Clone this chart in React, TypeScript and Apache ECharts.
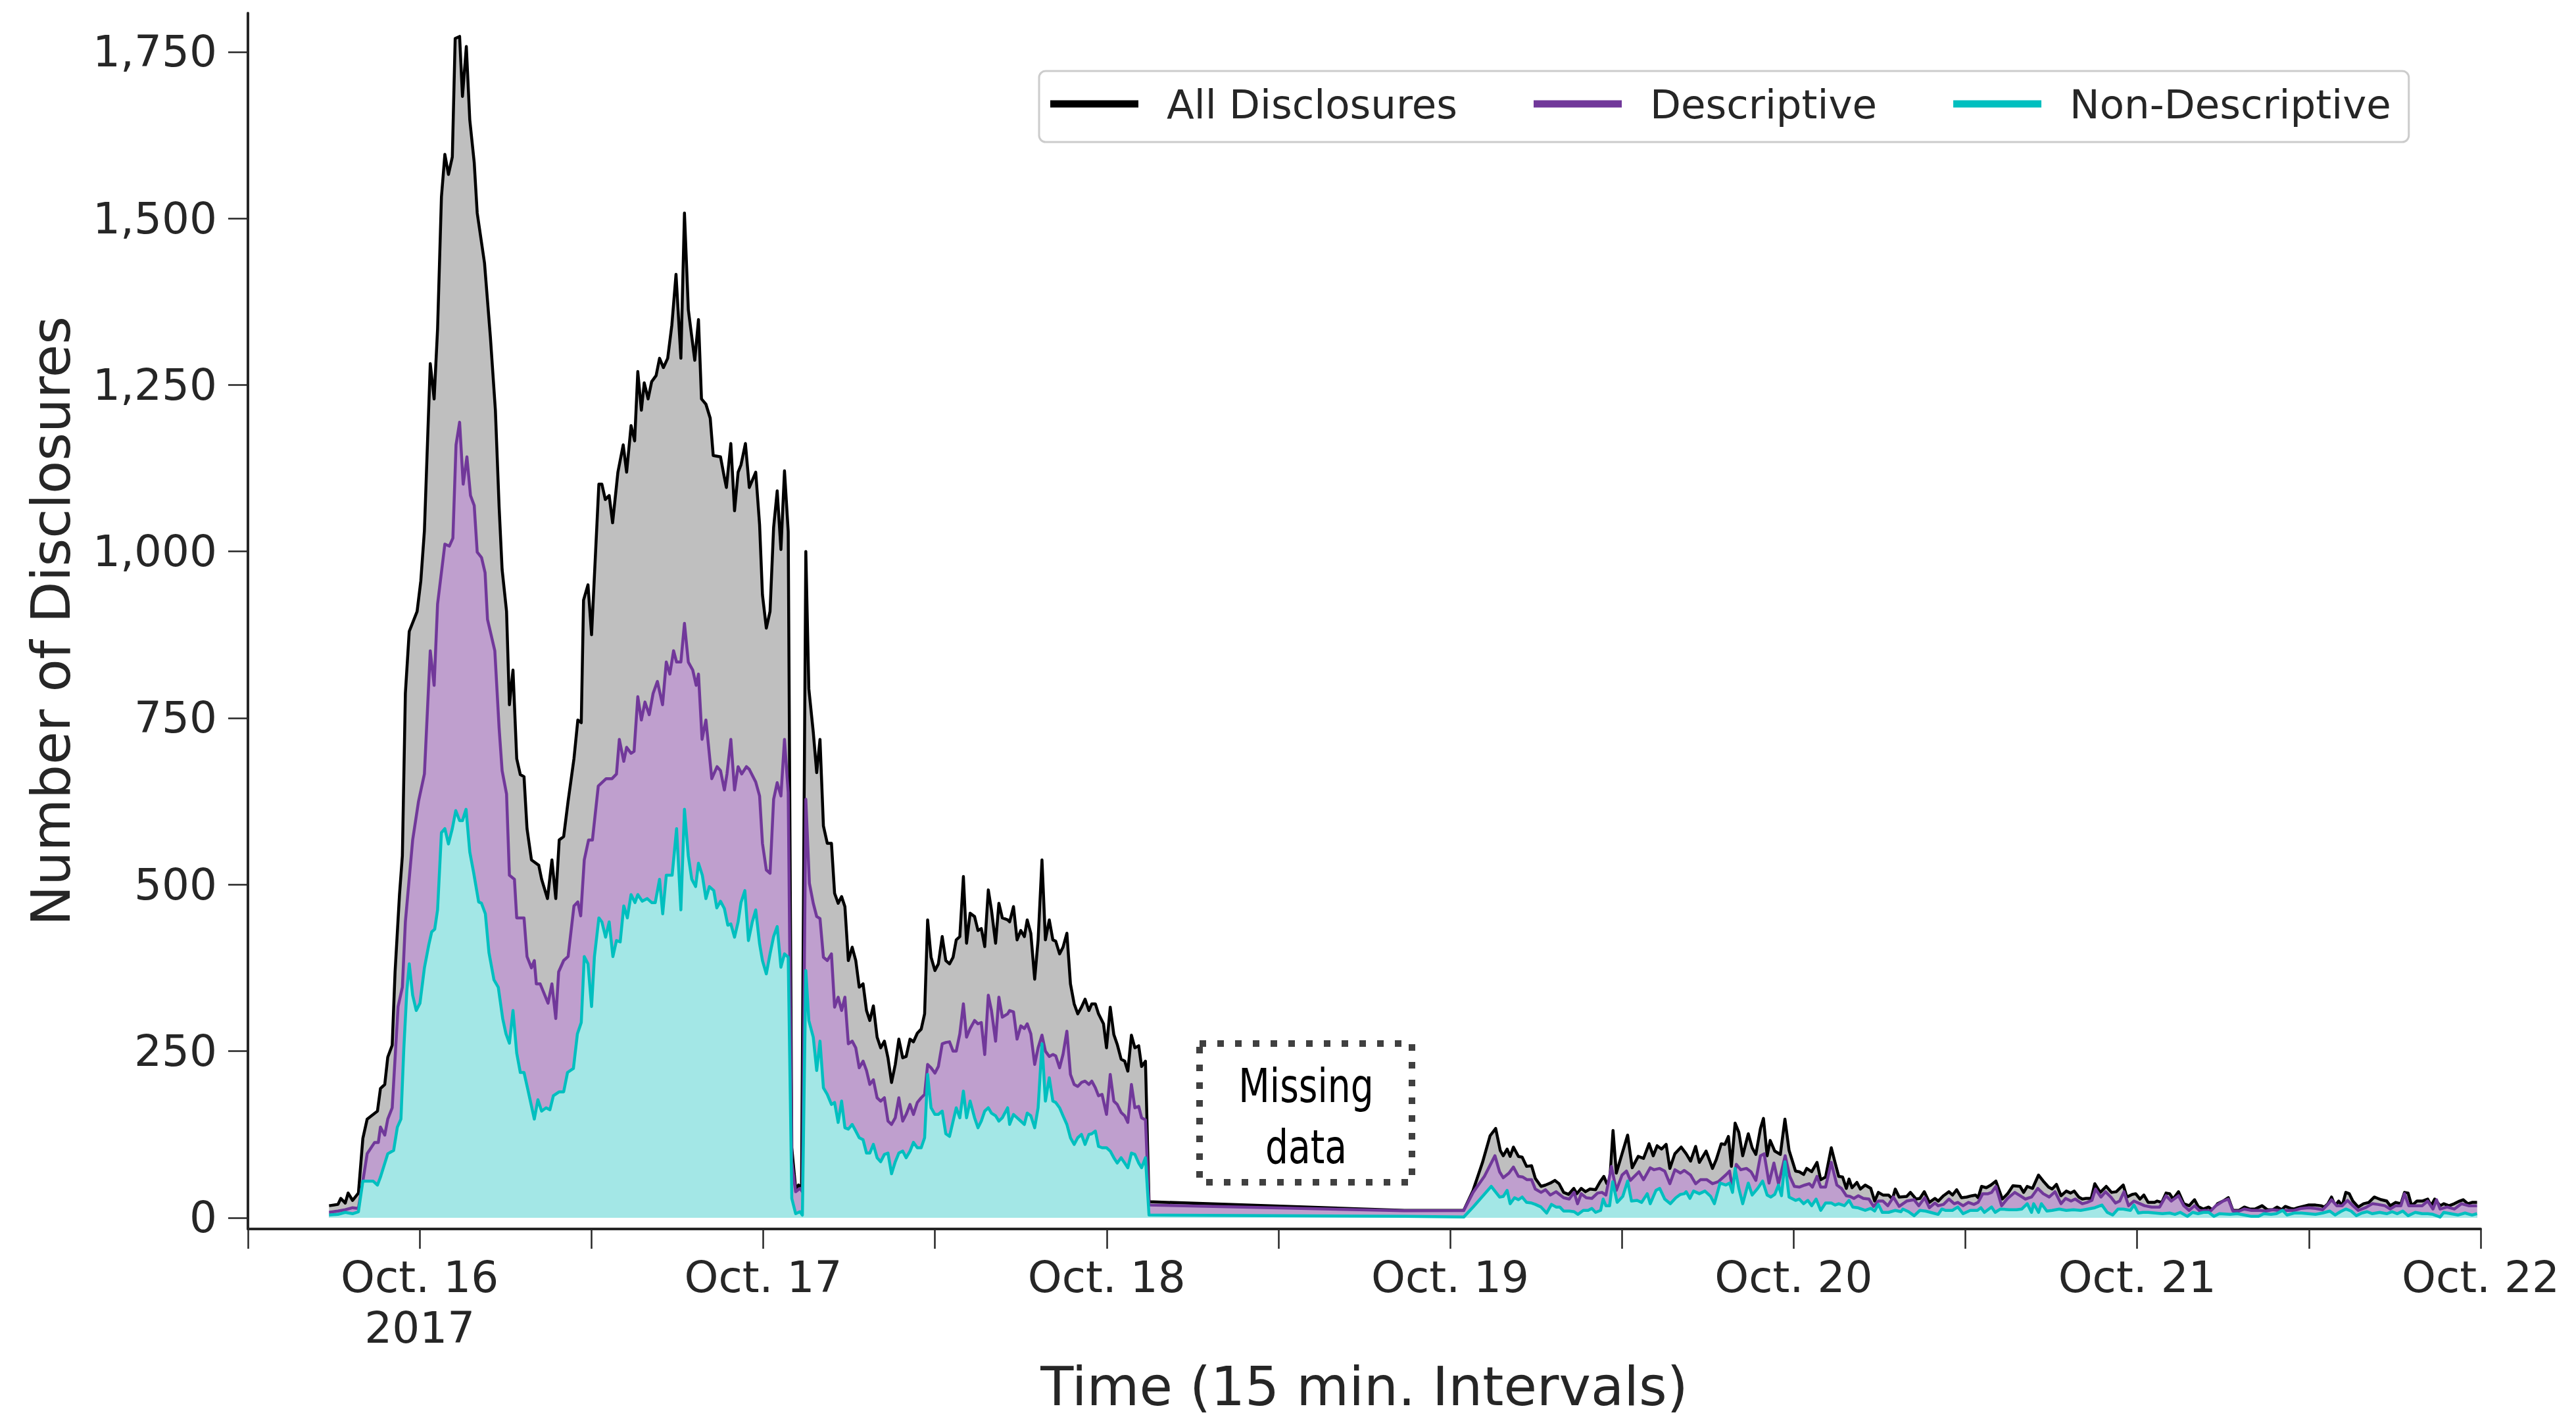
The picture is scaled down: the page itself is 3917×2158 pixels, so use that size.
import React, { useEffect, useRef } from "react";
import * as echarts from "echarts";

// Hours are measured from Oct. 16, 2017 00:00 (15-minute sampling).
const allDisclosures: [number, number][] = [
  [-6.33,18],[-5.71,20],[-5.51,29],[-5.2,22],[-5.0,37],[-4.69,26],[-4.28,37],[-3.97,119],[-3.67,148],[-2.95,160],[-2.74,194],[-2.44,200],[-2.23,241],[-1.92,259],[-1.72,369],[-1.41,485],[-1.21,543],[-1.0,787],[-0.73,880],[-0.18,910],[0.08,956],[0.33,1031],[0.74,1282],[1.01,1229],[1.25,1334],[1.52,1532],[1.76,1596],[2.01,1566],[2.28,1592],[2.48,1770],[2.79,1773],[2.99,1683],[3.26,1758],[3.5,1648],[3.81,1584],[4.02,1508],[4.53,1433],[4.94,1322],[5.29,1212],[5.55,1067],[5.76,973],[6.07,910],[6.27,770],[6.52,822],[6.78,689],[7.03,665],[7.29,662],[7.5,584],[7.81,537],[8.32,529],[8.52,508],[8.93,479],[9.24,537],[9.51,479],[9.75,567],[10.06,572],[10.37,625],[10.78,689],[11.05,747],[11.29,743],[11.45,927],[11.76,950],[12.01,875],[12.52,1101],[12.73,1101],[12.97,1078],[13.24,1084],[13.48,1043],[13.85,1119],[14.22,1160],[14.46,1119],[14.77,1189],[15.02,1166],[15.24,1270],[15.49,1212],[15.69,1253],[15.96,1229],[16.21,1255],[16.52,1264],[16.76,1290],[17.03,1276],[17.33,1290],[17.62,1340],[17.91,1416],[18.25,1290],[18.5,1508],[18.77,1363],[19.22,1287],[19.48,1348],[19.69,1229],[20.0,1221],[20.3,1200],[20.51,1144],[21.02,1142],[21.27,1113],[21.43,1096],[21.74,1162],[22.0,1061],[22.25,1119],[22.45,1130],[22.76,1162],[23.03,1096],[23.48,1119],[23.75,1040],[23.95,935],[24.22,885],[24.48,910],[24.73,1036],[24.98,1091],[25.24,1003],[25.49,1121],[25.75,1030],[26.0,105],[26.27,44],[26.47,49],[26.68,44],[26.98,1000],[27.19,794],[27.5,729],[27.74,668],[27.97,718],[28.21,588],[28.48,562],[28.77,562],[28.99,487],[29.24,472],[29.48,482],[29.71,467],[29.95,386],[30.22,406],[30.47,386],[30.71,346],[30.98,351],[31.22,311],[31.45,296],[31.7,318],[31.96,271],[32.21,255],[32.47,265],[32.72,240],[32.97,203],[33.23,230],[33.48,268],[33.75,240],[33.99,242],[34.26,268],[34.5,264],[34.77,277],[35.04,283],[35.28,306],[35.49,447],[35.73,391],[36.0,371],[36.24,381],[36.51,422],[36.76,386],[37.02,381],[37.27,391],[37.49,417],[37.74,422],[37.99,512],[38.21,412],[38.46,457],[38.77,452],[39.01,431],[39.24,434],[39.48,407],[39.73,492],[39.95,462],[40.24,412],[40.47,472],[40.71,450],[41.08,447],[41.22,444],[41.49,467],[41.74,417],[42.0,431],[42.25,422],[42.45,447],[42.7,427],[42.97,358],[43.21,417],[43.48,537],[43.72,417],[43.99,447],[44.24,417],[44.44,415],[44.71,396],[44.95,406],[45.22,427],[45.47,351],[45.73,321],[45.98,306],[46.24,316],[46.49,328],[46.76,311],[46.96,321],[47.21,321],[47.43,306],[47.78,291],[47.99,255],[48.25,316],[48.5,275],[48.74,260],[49.01,238],[49.26,235],[49.48,220],[49.73,274],[49.97,255],[50.24,258],[50.44,227],[50.71,235],[50.96,24],
  [68.8,11],[72.95,11],[73.6,41],[74.26,83],[74.79,123],[75.18,134],[75.5,101],[75.71,93],[75.98,103],[76.19,92],[76.42,106],[76.77,92],[77.03,91],[77.34,77],[77.69,78],[77.95,59],[78.35,47],[78.66,49],[79.0,52],[79.32,56],[79.61,51],[79.93,38],[80.27,35],[80.64,44],[80.85,36],[81.16,44],[81.45,39],[81.77,43],[82.16,42],[82.48,54],[82.74,62],[82.95,51],[83.14,52],[83.38,131],[83.61,67],[84.01,96],[84.4,124],[84.72,75],[85.14,92],[85.51,89],[85.9,111],[86.19,93],[86.46,108],[86.77,103],[87.09,110],[87.35,74],[87.7,96],[88.14,106],[88.49,96],[88.8,85],[89.15,107],[89.41,83],[89.88,100],[90.33,74],[90.59,87],[90.94,111],[91.2,110],[91.44,122],[91.65,77],[91.91,142],[92.17,128],[92.44,93],[92.83,126],[93.1,105],[93.36,95],[93.68,134],[93.89,149],[94.15,93],[94.36,116],[94.68,100],[95.07,95],[95.39,148],[95.68,101],[96.13,70],[96.39,69],[96.7,65],[96.91,74],[97.26,69],[97.63,83],[97.89,57],[98.23,61],[98.63,105],[98.89,83],[99.15,62],[99.42,61],[99.68,44],[99.87,58],[100.08,45],[100.42,53],[100.66,43],[101.0,49],[101.39,44],[101.66,25],[101.92,38],[102.24,34],[102.63,34],[102.9,28],[103.1,43],[103.37,31],[103.9,32],[104.16,38],[104.55,28],[104.82,29],[105.13,39],[105.48,23],[105.87,29],[106.1,25],[106.47,33],[106.85,39],[107.1,34],[107.39,42],[107.72,30],[108.09,31],[108.46,33],[108.71,34],[108.89,30],[109.13,47],[109.46,45],[109.78,49],[110.13,55],[110.58,28],[110.95,36],[111.32,48],[111.82,47],[112.07,38],[112.32,47],[112.69,44],[113.11,64],[113.44,55],[113.81,46],[114.06,43],[114.36,50],[114.68,33],[115.05,40],[115.35,37],[115.6,40],[115.92,31],[116.17,28],[116.42,29],[116.79,29],[117.04,51],[117.42,38],[117.84,47],[118.21,38],[118.54,39],[119.03,49],[119.28,31],[119.65,35],[119.9,36],[120.2,28],[120.47,34],[120.77,23],[121.22,23],[121.4,25],[121.72,23],[122.02,37],[122.27,36],[122.51,28],[122.89,39],[123.26,21],[123.63,18],[124.01,27],[124.26,17],[124.63,13],[125.0,16],[125.3,11],[125.62,21],[126.0,25],[126.37,30],[126.69,11],[127.12,11],[127.49,16],[127.86,13],[128.23,13],[128.73,18],[129.1,12],[129.48,12],[129.78,16],[130.1,12],[130.35,17],[130.72,14],[130.97,13],[131.22,15],[131.59,17],[131.96,19],[132.46,19],[132.84,18],[133.08,16],[133.33,21],[133.58,31],[133.83,18],[134.08,25],[134.33,18],[134.58,38],[134.82,36],[135.07,25],[135.45,16],[135.82,21],[136.19,23],[136.57,31],[136.81,29],[137.06,27],[137.44,25],[137.68,18],[138.06,23],[138.43,21],[138.68,38],[138.93,37],[139.18,18],[139.55,25],[139.92,25],[140.3,28],[140.54,18],[140.79,28],[141.17,18],[141.42,21],[141.79,18],[142.16,21],[142.53,25],[142.78,27],[143.11,21],[143.4,23],[143.75,23]
];

const descriptive: [number, number][] = [
  [-6.33,8],[-5.71,10],[-5.2,12],[-4.69,15],[-4.28,14],[-3.97,55],[-3.67,96],[-3.15,113],[-2.89,113],[-2.74,136],[-2.44,124],[-2.23,148],[-1.92,165],[-1.51,317],[-1.21,346],[-1.0,444],[-0.49,567],[-0.08,625],[0.33,666],[0.74,851],[1.01,799],[1.25,921],[1.76,1011],[2.07,1008],[2.32,1020],[2.54,1160],[2.79,1194],[3.04,1101],[3.3,1142],[3.55,1084],[3.81,1069],[4.02,999],[4.32,991],[4.57,968],[4.74,898],[5.25,851],[5.55,735],[5.76,671],[6.07,636],[6.27,514],[6.62,508],[6.78,450],[7.29,450],[7.5,392],[7.81,375],[8.01,386],[8.15,351],[8.42,351],[8.97,322],[9.24,351],[9.51,299],[9.71,369],[10.06,386],[10.37,392],[10.78,468],[11.05,474],[11.25,453],[11.5,537],[11.8,567],[12.07,567],[12.48,648],[13.03,659],[13.44,659],[13.75,666],[13.95,718],[14.26,685],[14.46,706],[14.77,697],[14.98,700],[15.24,782],[15.49,747],[15.74,774],[16.04,755],[16.31,787],[16.61,805],[16.97,770],[17.23,834],[17.48,816],[17.74,851],[17.95,834],[18.25,834],[18.5,892],[18.77,834],[19.08,822],[19.32,799],[19.48,816],[19.73,718],[20.0,747],[20.41,659],[20.78,677],[21.02,671],[21.29,642],[21.47,666],[21.74,718],[22.0,642],[22.25,677],[22.5,666],[22.83,677],[23.03,673],[23.48,654],[23.75,633],[23.95,562],[24.22,522],[24.48,517],[24.73,628],[24.98,653],[25.24,633],[25.49,718],[25.75,638],[26.0,84],[26.27,39],[26.57,44],[26.74,39],[26.98,628],[27.23,502],[27.5,472],[27.74,452],[27.97,449],[28.21,391],[28.48,386],[28.77,396],[28.99,316],[29.24,331],[29.48,311],[29.71,331],[29.95,261],[30.22,265],[30.47,255],[30.71,225],[30.98,235],[31.22,221],[31.45,200],[31.7,207],[31.96,180],[32.21,175],[32.47,180],[32.72,145],[32.97,140],[33.23,150],[33.48,180],[33.75,145],[33.99,155],[34.26,170],[34.5,155],[34.77,173],[35.04,180],[35.28,185],[35.49,230],[35.73,225],[36.0,217],[36.24,227],[36.51,261],[36.76,263],[37.02,264],[37.27,250],[37.49,250],[37.74,276],[37.99,321],[38.21,271],[38.46,284],[38.77,296],[39.01,291],[39.24,293],[39.48,245],[39.73,334],[39.95,311],[40.24,265],[40.47,331],[40.71,301],[41.08,306],[41.22,311],[41.49,309],[41.74,268],[42.0,288],[42.25,284],[42.45,291],[42.7,276],[42.97,230],[43.21,255],[43.48,274],[43.72,250],[43.99,242],[44.24,245],[44.44,243],[44.71,225],[44.95,245],[45.22,280],[45.47,215],[45.73,200],[45.98,197],[46.24,203],[46.49,205],[46.76,200],[46.96,205],[47.21,195],[47.43,183],[47.68,185],[47.99,155],[48.25,215],[48.5,175],[48.74,170],[49.01,158],[49.26,153],[49.48,143],[49.73,200],[49.97,165],[50.24,167],[50.44,150],[50.71,147],[50.96,19],
  [68.8,10.5],[72.95,10.8],[73.6,38],[74.39,62],[75.13,93],[75.45,69],[75.71,60],[76.11,67],[76.42,76],[76.77,62],[77.08,61],[77.37,57],[77.69,57],[77.95,43],[78.35,38],[78.66,42],[79.0,34],[79.4,39],[79.93,30],[80.32,28],[80.66,38],[80.9,21],[81.16,36],[81.51,30],[81.9,29],[82.3,37],[82.61,38],[82.88,34],[83.27,77],[83.61,41],[84.01,64],[84.32,70],[84.59,56],[85.19,69],[85.51,57],[85.98,75],[86.25,72],[86.64,74],[86.99,70],[87.35,51],[87.7,72],[88.09,67],[88.36,71],[88.8,64],[89.15,51],[89.49,57],[89.94,57],[90.33,51],[90.73,54],[91.25,64],[91.52,70],[91.73,44],[91.99,80],[92.31,72],[92.7,74],[93.02,69],[93.36,56],[93.68,93],[93.94,96],[94.28,52],[94.62,82],[94.94,51],[95.41,93],[95.73,62],[96.05,47],[96.39,46],[96.78,49],[97.1,51],[97.31,46],[97.63,62],[97.89,46],[98.23,46],[98.63,83],[99.02,49],[99.34,44],[99.68,33],[99.94,32],[100.21,29],[100.52,33],[100.87,29],[101.26,28],[101.58,17],[101.92,25],[102.24,25],[102.58,18],[102.97,31],[103.37,17],[103.9,25],[104.42,27],[104.74,18],[105.16,30],[105.48,15],[105.87,22],[106.1,18],[106.47,20],[106.85,28],[107.22,21],[107.47,23],[107.84,18],[108.21,23],[108.59,20],[108.89,23],[109.21,36],[109.58,36],[109.83,38],[110.13,47],[110.53,18],[110.95,29],[111.45,38],[111.82,33],[112.19,28],[112.62,31],[113.06,44],[113.44,36],[113.86,31],[114.26,39],[114.68,21],[115.0,29],[115.38,25],[115.67,28],[116.17,21],[116.5,23],[116.84,26],[117.09,43],[117.47,31],[117.79,39],[118.16,31],[118.49,22],[118.78,25],[119.08,39],[119.4,18],[119.78,25],[120.2,21],[120.52,18],[121.02,16],[121.57,16],[122.02,33],[122.39,25],[122.89,33],[123.26,18],[123.63,11],[124.01,18],[124.38,10],[124.75,11],[125.13,10],[125.5,18],[126.0,25],[126.37,28],[126.69,10],[127.12,10],[127.49,13],[127.99,11],[128.61,11],[128.98,10],[129.48,12],[129.85,11],[130.35,11],[130.97,11],[131.47,14],[131.96,15],[132.46,14],[132.96,12],[133.33,20],[133.58,27],[133.95,18],[134.33,18],[134.7,26],[135.07,18],[135.45,11],[135.94,15],[136.44,21],[136.81,20],[137.31,18],[137.68,13],[138.06,18],[138.43,18],[138.68,36],[138.98,18],[139.43,18],[139.92,18],[140.3,25],[140.67,13],[140.92,27],[141.17,13],[141.66,16],[142.16,13],[142.66,21],[143.16,18],[143.75,18]
];

const nonDescriptive: [number, number][] = [
  [-6.33,4],[-5.71,5],[-5.2,8],[-4.69,6],[-4.28,9],[-3.97,55],[-3.26,55],[-2.95,49],[-2.74,61],[-2.23,96],[-1.82,101],[-1.56,136],[-1.31,148],[-1.11,253],[-0.9,340],[-0.73,381],[-0.49,334],[-0.24,311],[0.02,322],[0.33,375],[0.64,410],[0.84,429],[1.05,433],[1.25,462],[1.52,578],[1.76,584],[2.01,561],[2.28,584],[2.52,611],[2.79,596],[2.99,596],[3.24,613],[3.5,549],[3.77,518],[4.12,474],[4.32,472],[4.59,456],[4.84,398],[5.19,357],[5.49,346],[5.8,299],[6.03,276],[6.27,262],[6.52,311],[6.78,247],[7.03,218],[7.29,218],[7.54,194],[8.01,148],[8.26,177],[8.52,160],[8.83,165],[9.1,162],[9.34,183],[9.75,189],[10.06,189],[10.33,218],[10.74,224],[11.02,276],[11.29,293],[11.5,392],[11.76,381],[12.01,317],[12.21,392],[12.52,450],[12.73,444],[12.99,421],[13.24,444],[13.5,392],[13.75,416],[14.01,414],[14.26,468],[14.51,450],[14.77,485],[15.04,473],[15.24,485],[15.55,475],[15.9,479],[16.21,473],[16.46,473],[16.76,508],[16.98,456],[17.23,514],[17.64,514],[17.95,584],[18.25,462],[18.5,613],[18.77,543],[19.01,508],[19.28,497],[19.48,532],[19.75,514],[20.0,479],[20.24,497],[20.55,491],[20.76,465],[21.02,475],[21.29,464],[21.53,439],[21.74,441],[22.0,421],[22.25,444],[22.45,473],[22.72,491],[22.97,416],[23.24,444],[23.48,462],[23.75,411],[23.95,386],[24.22,366],[24.48,396],[24.73,422],[24.98,437],[25.24,376],[25.49,396],[25.75,391],[26.0,29],[26.27,6],[26.57,9],[26.74,4],[26.98,371],[27.19,296],[27.5,271],[27.74,221],[27.97,265],[28.21,195],[28.48,185],[28.77,170],[28.99,173],[29.24,143],[29.48,175],[29.71,135],[29.95,133],[30.22,140],[30.47,130],[30.71,120],[30.98,117],[31.22,97],[31.45,97],[31.7,110],[31.96,90],[32.21,84],[32.47,95],[32.72,97],[32.97,66],[33.23,84],[33.48,97],[33.75,100],[33.99,90],[34.26,100],[34.5,113],[34.77,105],[35.04,105],[35.28,120],[35.49,215],[35.73,165],[36.0,155],[36.24,155],[36.51,160],[36.76,126],[37.02,122],[37.27,145],[37.49,165],[37.74,150],[37.99,190],[38.21,150],[38.46,175],[38.77,150],[39.01,135],[39.24,145],[39.48,160],[39.73,165],[39.95,157],[40.24,153],[40.47,145],[40.71,150],[41.08,165],[41.22,140],[41.49,155],[41.74,150],[42.0,145],[42.25,140],[42.45,157],[42.7,153],[42.97,135],[43.21,165],[43.48,261],[43.72,175],[43.99,210],[44.24,175],[44.44,173],[44.71,165],[44.95,153],[45.22,140],[45.47,120],[45.73,110],[45.98,120],[46.24,125],[46.49,110],[46.76,125],[46.96,126],[47.21,130],[47.43,107],[47.68,105],[47.99,105],[48.25,100],[48.5,90],[48.74,82],[49.01,90],[49.26,82],[49.48,75],[49.73,97],[49.97,95],[50.24,82],[50.44,75],[50.71,90],[50.96,4],
  [68.8,2],[72.95,1],[73.6,16],[74.87,47],[75.45,31],[75.71,32],[75.98,41],[76.19,21],[76.5,30],[76.77,27],[77.03,31],[77.34,23],[77.69,22],[77.95,20],[78.35,16],[78.74,7],[79.08,20],[79.4,16],[79.66,16],[79.93,10],[80.32,10],[80.66,9],[80.93,5],[81.3,11],[81.64,11],[81.9,14],[82.16,8],[82.51,11],[82.69,28],[82.88,18],[83.14,18],[83.35,54],[83.67,23],[84.06,32],[84.4,55],[84.67,25],[85.06,26],[85.38,23],[85.77,36],[85.98,21],[86.38,41],[86.64,44],[86.99,28],[87.38,21],[87.77,30],[88.09,35],[88.36,36],[88.49,39],[88.75,29],[89.01,40],[89.41,36],[89.8,40],[90.2,32],[90.46,21],[90.86,52],[91.25,49],[91.52,52],[91.73,38],[91.91,74],[92.17,44],[92.44,21],[92.83,52],[93.1,34],[93.49,44],[93.83,55],[94.15,34],[94.41,31],[94.68,35],[94.94,49],[95.15,33],[95.39,84],[95.68,31],[96.13,26],[96.39,28],[96.7,21],[96.99,26],[97.26,18],[97.57,28],[97.89,11],[98.23,22],[98.63,22],[98.89,19],[99.15,21],[99.55,18],[99.87,26],[100.13,16],[100.47,15],[100.73,13],[101.0,11],[101.39,14],[101.66,10],[101.92,20],[102.19,8],[102.63,8],[103.1,11],[103.5,9],[103.63,13],[104.03,9],[104.42,3],[104.82,11],[105.21,10],[105.74,7],[106.1,5],[106.35,13],[106.6,11],[107.09,11],[107.47,16],[107.84,6],[108.34,11],[108.84,11],[109.08,15],[109.33,8],[109.83,16],[110.08,8],[110.45,13],[111.07,12],[111.57,12],[111.94,13],[112.32,21],[112.62,8],[112.77,21],[113.11,8],[113.31,21],[113.69,10],[114.06,11],[114.56,13],[115.05,11],[115.55,12],[116.05,11],[116.55,13],[117.04,15],[117.54,19],[117.91,8],[118.29,4],[118.66,13],[119.03,13],[119.53,11],[119.78,19],[120.08,7],[120.4,8],[120.77,8],[121.27,7],[121.77,6],[122.27,7],[122.64,5],[123.01,8],[123.51,2],[123.88,8],[124.26,6],[124.63,8],[125.0,8],[125.37,2],[125.75,6],[126.49,5],[126.99,6],[127.49,4],[127.99,2],[128.48,2],[128.86,6],[129.35,5],[129.73,6],[130.17,11],[130.47,4],[130.97,7],[131.47,7],[131.96,6],[132.46,5],[132.96,7],[133.46,10],[133.83,4],[134.2,9],[134.58,13],[134.95,10],[135.32,3],[135.7,7],[136.07,9],[136.44,6],[136.94,8],[137.44,6],[137.81,9],[138.18,6],[138.56,10],[138.93,3],[139.43,8],[139.92,6],[140.3,6],[140.67,5],[141.17,1],[141.42,8],[141.91,6],[142.41,4],[142.91,7],[143.4,4],[143.75,6]
];

const seriesNames = ["All Disclosures", "Descriptive", "Non-Descriptive"];
const lineColors = ["#000000", "#71389a", "#00bfbf"];
const fillColors = ["#bfbfbf", "#bf9fce", "#a3e7e6"];

const yTickValues = [0, 250, 500, 750, 1000, 1250, 1500, 1750];
const xTickValues = [-12, 0, 12, 24, 36, 48, 60, 72, 84, 96, 108, 120, 132, 144];
const xLabelValues = [0, 24, 48, 72, 96, 120, 144];
const xLabelTexts = ["Oct. 16\n2017", "Oct. 17", "Oct. 18", "Oct. 19", "Oct. 20", "Oct. 21", "Oct. 22"];

const xAxisTitle = "Time (15 min. Intervals)";
const yAxisTitle = "Number of Disclosures";
const noteText = "Missing\ndata";

const W = 3917;
const H = 2158;
const INK = "#262626";
const FONT = "'DejaVu Sans', sans-serif";

export default function App() {
  const ref = useRef<HTMLDivElement>(null);

  useEffect(() => {
    if (!ref.current) return;
    const chart = echarts.init(ref.current, null, { renderer: "svg", width: W, height: H });
    const datasets = [allDisclosures, descriptive, nonDescriptive];

    const option: any = {
      animation: false,
      backgroundColor: "#ffffff",
      textStyle: { fontFamily: FONT },
      grid: { left: 377, right: 145, top: 20, bottom: 276, containLabel: false },
      legend: {
        left: 1580,
        top: 108,
        orient: "horizontal",
        selectedMode: false,
        icon: "rect",
        itemWidth: 134,
        itemHeight: 11,
        itemGap: 116,
        padding: [14, 27, 22, 17],
        backgroundColor: "#ffffff",
        borderColor: "#cccccc",
        borderWidth: 3,
        borderRadius: 10,
        itemStyle: { borderWidth: 0 },
        textStyle: { fontSize: 61, color: INK, fontFamily: FONT, lineHeight: 72, padding: [0, 0, 0, 38] },
        data: seriesNames.map((n, i) => ({ name: n, icon: "rect", itemStyle: { color: lineColors[i], borderWidth: 0 } })),
      },
      xAxis: {
        type: "value",
        min: -12,
        max: 144,
        axisLine: { show: true, onZero: false, lineStyle: { color: INK, width: 4 } },
        axisTick: { show: true, length: 30, customValues: xTickValues, lineStyle: { color: INK, width: 2.5 } },
        axisLabel: {
          customValues: xLabelValues,
          formatter: (v: number) => {
            const i = xLabelValues.indexOf(v);
            return i >= 0 ? xLabelTexts[i] : "";
          },
          fontSize: 66,
          lineHeight: 77,
          color: INK,
          margin: 35,
          fontFamily: FONT,
          showMinLabel: true,
          showMaxLabel: true,
        },
        splitLine: { show: false },
        name: xAxisTitle,
        nameLocation: "middle",
        nameGap: 192,
        nameTextStyle: { fontSize: 82, color: INK, fontFamily: FONT, lineHeight: 90 },
      },
      yAxis: {
        type: "value",
        min: -17,
        max: 1808,
        axisLine: { show: true, onZero: false, lineStyle: { color: INK, width: 4 } },
        axisTick: { show: true, length: 30, customValues: yTickValues, lineStyle: { color: INK, width: 2.5 } },
        axisLabel: {
          customValues: yTickValues,
          formatter: (v: number) => v.toLocaleString("en-US"),
          fontSize: 66,
          color: INK,
          margin: 47,
          fontFamily: FONT,
        },
        splitLine: { show: false },
        name: yAxisTitle,
        nameLocation: "middle",
        nameRotate: 90,
        nameGap: 255,
        nameTextStyle: { fontSize: 82, color: INK, fontFamily: FONT, lineHeight: 90 },
      },
      series: datasets.map((d, i) => ({
        name: seriesNames[i],
        type: "line",
        data: d,
        showSymbol: false,
        symbol: "none",
        silent: true,
        z: 2 + i,
        itemStyle: { color: lineColors[i] },
        lineStyle: { color: lineColors[i], width: 4.5, join: "round" },
        areaStyle: { color: fillColors[i], opacity: 1 },
      })),
      graphic: [
        {
          type: "rect",
          shape: { x: 1824, y: 1587, width: 323, height: 211 },
          style: { fill: "rgba(255,255,255,0)", stroke: "#404040", lineWidth: 10, lineDash: [10, 17] },
          z: 10,
        },
        {
          type: "text",
          x: 1986,
          y: 1698,
          scaleX: 0.85,
          style: {
            text: noteText,
            fill: "#000000",
            font: "72px 'Liberation Sans Narrow', 'DejaVu Sans Condensed', sans-serif",
            lineHeight: 93,
            textAlign: "center",
            textVerticalAlign: "middle",
          },
          z: 10,
        },
      ],
    };

    chart.setOption(option);
    return () => chart.dispose();
  }, []);

  return (
    <div
      ref={ref}
      style={{ position: "fixed", left: 0, top: 0, width: W, height: H, background: "#ffffff" }}
    />
  );
}
